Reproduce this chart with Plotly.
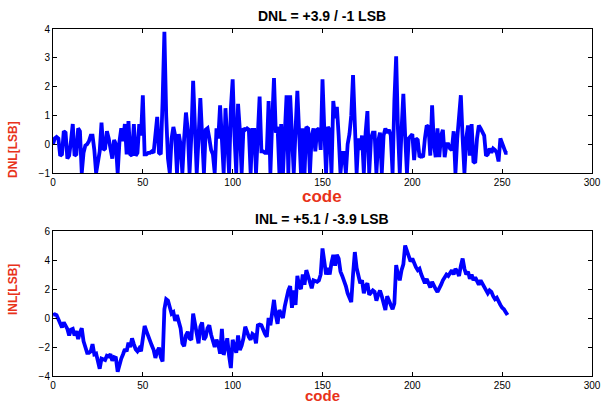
import plotly.graph_objects as go

codes = list(range(254))

dnl = [0.0, 0.2, 0.25, 0.2, -0.4, -0.35, 0.45, 0.4, -0.5, -0.4,
       0.1, 0.7, -0.4, -0.35, 0.55, 0.45, -1.0, -0.3, -0.05, 0.0,
       0.1, 0.3, 0.3, -0.2, -1.0, -0.5, -0.25, 0.75, -0.2, -0.15,
       0.45, 0.2, -0.2, -0.5, 0.15, 0.0, -1.0, 0.1, 0.55, 0.1,
       0.7, -0.35, 0.8, -0.35, -0.4, 0.7, -0.4, -0.3, 0.7, 0.3,
       1.7, -0.35, -0.35, -0.3, -0.3, -0.25, -0.3, 0.4, 0.95, -0.3,
       -0.35, 1.5, 3.9, 1.0, -0.5, -1.0, 0.2, 0.6, 0.3, -1.0,
       0.35, 0.0, -1.0, 0.2, 1.1, 0.5, -1.0, 0.3, 2.2, 0.6,
       -1.0, 0.2, 1.6, 0.3, -1.0, 0.5, 0.55, 0.2, -0.2, -0.35,
       -1.0, 0.55, 0.2, 1.35, 0.0, -1.0, 1.25, 0.3, -1.0, 1.25,
       2.25, 0.3, -1.0, 1.4, 0.5, -1.0, 0.55, 0.5, 0.55, 0.5,
       -1.0, 0.5, 0.5, -1.0, 0.3, 1.65, -0.25, -0.25, -0.3, -0.3,
       1.5, -1.0, 0.8, 2.3, 0.4, 0.6, -1.0, 0.7, -1.0, 0.5,
       1.7, -1.0, 1.7, 0.3, -1.0, 0.5, 1.85, 0.4, -1.0, 0.55,
       -1.0, 0.6, 0.55, -1.0, 0.3, 0.55, -0.25, 0.5, 0.55, -0.2,
       2.25, 0.5, -1.0, 0.6, 0.5, -1.0, 1.5, 0.9, 1.3, 0.3,
       -1.0, -0.3, -0.3, -1.0, 0.0, 0.35, 1.0, 2.4, 0.5, -1.0,
       0.2, -0.2, 0.3, -1.0, 0.4, 1.15, -1.0, 0.2, 0.4, 0.4,
       -1.0, 0.1, 0.4, -1.0, 0.3, 0.55, 0.4, 0.5, 0.3, -1.0,
       1.5, 3.05, 0.5, -1.0, 0.5, 1.75, 0.3, -1.0, 0.2, 0.3,
       0.35, -0.55, 0.2, 0.15, -0.45, -0.4, -0.45, 0.2, 0.65, 0.6,
       -0.4, 1.35, 0.0, -0.45, 0.55, -0.45, 0.3, 0.5, -0.45, 0.0,
       0.0, -0.15, -0.2, 0.45, -1.0, 0.2, 0.9, 1.7, 0.2, -1.0,
       0.2, 0.65, -0.4, 0.7, -0.6, -0.65, 0.2, 0.65, 0.55, 0.45,
       0.3, -0.4, -0.35, -0.15, -0.3, -0.15, -0.2, -0.3, -0.6, 0.2,
       0.0, -0.15, -0.3, -0.3]

inl = [0.2, 0.25, 0.2, -0.1, -0.3, -0.65, -0.3, -0.5, -0.75, -1.2,
       -0.8, -0.75, -1.2, -0.9, -1.45, -1.0, -0.7, -1.6, -2.1, -2.4,
       -2.4, -2.3, -1.8, -2.5, -2.45, -3.0, -3.5, -2.8, -2.85, -2.9,
       -2.6, -2.65, -2.5, -2.95, -2.7, -2.75, -3.7, -3.2, -2.8, -2.5,
       -2.15, -2.3, -1.7, -2.0, -1.4, -1.8, -2.15, -2.3, -2.1, -2.3,
       -1.2, -0.55, -0.9, -1.3, -1.6, -1.9, -2.2, -2.75, -2.3, -2.05,
       -2.7, -3.0, 0.6, 1.3, 1.2, 0.6, 0.3, 0.4, -0.2, 0.2,
       -0.3, -0.7, -1.75, -1.95, -1.2, -0.95, -1.4, -1.5, 0.3, -0.3,
       -0.95, -1.75, -0.6, -0.3, -1.5, -1.3, -0.7, -0.5, -1.15, -1.6,
       -2.0, -1.5, -1.8, -2.45, -0.75, -2.55, -2.0, -1.4, -2.6, -3.45,
       -1.5, -2.0, -2.4, -1.2, -2.2, -1.9, -1.4, -0.6, -1.0, -1.3,
       -1.5, -1.1, -1.2, -1.75, -0.5, -0.45, -0.5, -0.9, -1.1, -1.3,
       0.0, -0.5, 0.4, 1.25, 0.2, -0.4, 0.55, 0.2, 0.0, 0.8,
       1.5, 1.9, 2.2, 0.7, 1.9, 0.9, 2.9, 2.2, 2.0, 3.0,
       2.3, 3.3, 2.9, 2.5, 2.05, 2.6, 2.55, 2.5, 2.6, 3.0,
       4.8, 3.8, 3.0, 3.45, 3.0, 3.8, 4.35, 3.6, 4.35, 4.1,
       3.2, 2.9, 2.6, 2.2, 1.7, 1.4, 1.1, 3.0, 4.55, 3.45,
       2.8, 2.4, 2.6, 1.7, 2.2, 2.4, 1.6, 1.8, 1.9, 1.8,
       1.2, 1.6, 1.9, 1.5, 1.1, 0.55, 1.5, 1.2, 0.8, 0.6,
       1.0, 3.65, 3.0, 2.6, 3.3, 3.7, 5.0, 4.6, 4.2, 3.9,
       4.1, 3.7, 3.5, 3.3, 3.4, 3.0, 2.6, 2.4, 2.7, 2.3,
       2.1, 2.5, 2.2, 2.0, 1.8, 2.0, 2.3, 2.6, 2.8, 3.0,
       2.9, 3.1, 3.3, 3.0, 3.4, 3.2, 2.9, 3.6, 4.1, 3.4,
       3.0, 3.2, 2.7, 3.0, 2.6, 2.8, 2.5, 2.3, 2.6, 2.4,
       2.2, 1.9, 1.7, 1.9, 1.8, 1.5, 1.3, 1.4, 1.1, 0.9,
       0.7, 0.6, 0.4, 0.2]

dnl_title = "DNL = +3.9 / -1 LSB"
inl_title = "INL = +5.1 / -3.9 LSB"
x_label = "code"
dnl_ylabel = "DNL[LSB]"
inl_ylabel = "INL[LSB]"
x_ticks = [0, 50, 100, 150, 200, 250, 300]
dnl_ticks = [-1, 0, 1, 2, 3, 4]
inl_ticks = [-4, -2, 0, 2, 4, 6]

W, H = 603, 403
ML, MR, MT, MB = 53, 11, 29, 27
ph = H - MT - MB

def py(ypx):
    return (H - MB - ypx) / ph

fig = go.Figure()
line = dict(color="#0000ff", width=3.8)
fig.add_trace(go.Scatter(x=codes, y=dnl, mode="lines", line=line, xaxis="x", yaxis="y", showlegend=False))
fig.add_trace(go.Scatter(x=codes, y=inl, mode="lines", line=line, xaxis="x2", yaxis="y2", showlegend=False))

tickfont = dict(family="Liberation Sans, Arial, sans-serif", size=10, color="black")
axcommon = dict(showgrid=False, zeroline=False, showline=True, linecolor="black", linewidth=1,
                mirror="ticks", ticks="inside", ticklen=4, tickcolor="black", tickfont=tickfont,
                automargin=False)

fig.update_layout(
    width=W, height=H,
    margin=dict(l=ML, r=MR, t=MT, b=MB, autoexpand=False),
    paper_bgcolor="white", plot_bgcolor="white",
    xaxis=dict(domain=[0, 1], range=[0, 300], tickvals=x_ticks, anchor="y", **axcommon),
    yaxis=dict(domain=[py(173), 1], range=[-1, 4], tickvals=dnl_ticks, anchor="x", **axcommon),
    xaxis2=dict(domain=[0, 1], range=[0, 300], tickvals=x_ticks, anchor="y2", **axcommon),
    yaxis2=dict(domain=[0, py(231)], range=[-4, 6], tickvals=inl_ticks, anchor="x2", **axcommon),
)

red = "#e8321a"
anns = [
    dict(text="<b>%s</b>" % dnl_title, x=322, y=16, size=14, color="black", angle=0),
    dict(text="<b>%s</b>" % inl_title, x=322, y=219, size=14, color="black", angle=0),
    dict(text="<b>%s</b>" % x_label, x=322, y=196, size=17, color=red, angle=0),
    dict(text="<b>%s</b>" % x_label, x=322, y=395, size=15, color=red, angle=0),
    dict(text="<b>%s</b>" % dnl_ylabel, x=13, y=150, size=12, color=red, angle=-90),
    dict(text="<b>%s</b>" % inl_ylabel, x=13, y=290, size=12, color=red, angle=-90),
]
for a in anns:
    fig.add_annotation(text=a["text"], xref="paper", yref="paper",
                       x=(a["x"] - ML) / (W - ML - MR), y=py(a["y"]),
                       xanchor="center", yanchor="middle", showarrow=False, textangle=a["angle"],
                       font=dict(family="Liberation Sans, Arial, sans-serif", size=a["size"], color=a["color"]))

fig.write_html("out.html")
